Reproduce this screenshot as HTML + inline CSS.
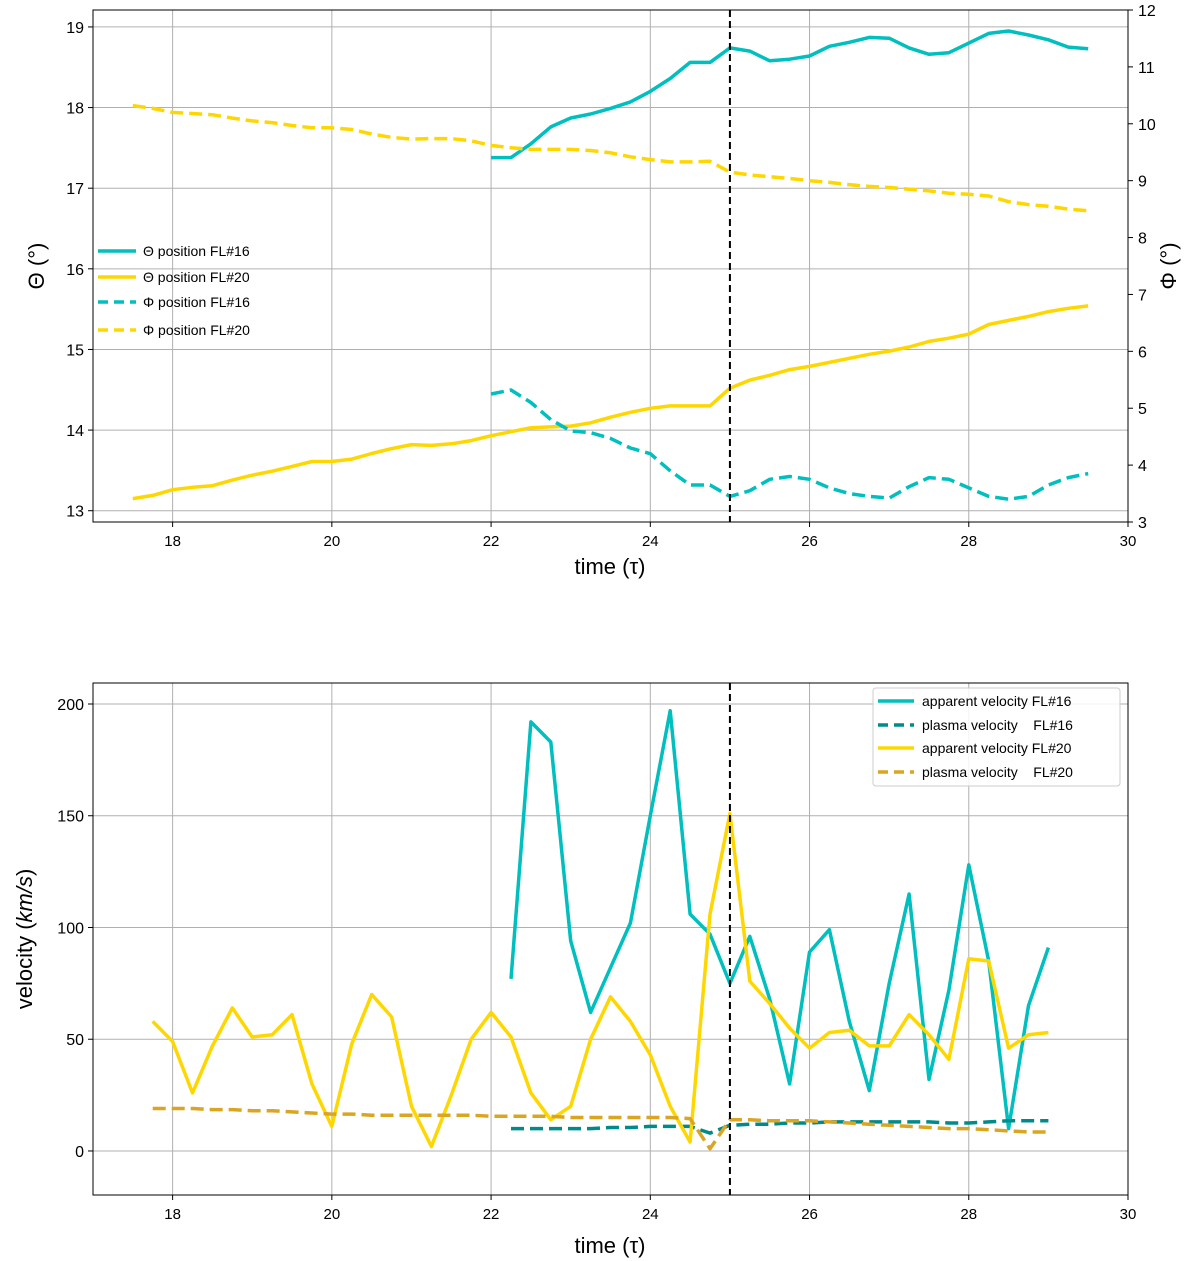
<!DOCTYPE html>
<html><head><meta charset="utf-8"><style>
body{margin:0;background:#fff}
svg{display:block;font-family:"Liberation Sans","DejaVu Sans",sans-serif}
</style></head><body>
<svg id="c" width="1200" height="1261" viewBox="0 0 1200 1261"></svg>
<script>
// top chart data
const tTheta16Start = 22, tTheta20Start = 17.5;
const theta16 = [17.38,17.38,17.55,17.76,17.87,17.92,17.99,18.07,18.2,18.36,18.56,18.56,18.74,18.7,18.58,18.6,18.64,18.76,18.81,18.87,18.86,18.74,18.66,18.68,18.8,18.92,18.95,18.9,18.84,18.75,18.73];
const theta20 = [13.15,13.19,13.26,13.29,13.31,13.38,13.44,13.49,13.55,13.61,13.61,13.64,13.71,13.77,13.82,13.81,13.83,13.87,13.93,13.98,14.03,14.04,14.05,14.09,14.16,14.22,14.27,14.3,14.3,14.3,14.52,14.62,14.68,14.75,14.79,14.84,14.89,14.94,14.98,15.03,15.1,15.14,15.19,15.31,15.36,15.41,15.47,15.51,15.54];
const phi16 = [5.25,5.32,5.1,4.8,4.6,4.57,4.47,4.3,4.2,3.9,3.65,3.65,3.45,3.55,3.75,3.8,3.75,3.6,3.5,3.45,3.42,3.62,3.78,3.75,3.6,3.45,3.4,3.45,3.65,3.78,3.85];
const phi20 = [10.32,10.27,10.2,10.18,10.16,10.1,10.05,10.02,9.97,9.93,9.93,9.9,9.82,9.76,9.73,9.74,9.74,9.7,9.62,9.58,9.55,9.55,9.55,9.53,9.49,9.42,9.37,9.33,9.33,9.34,9.15,9.1,9.07,9.04,9.0,8.97,8.93,8.9,8.88,8.85,8.82,8.78,8.76,8.73,8.63,8.58,8.55,8.5,8.47];
// bottom chart data
const tApp16Start = 22.25, tApp20Start = 17.75;
const app16 = [77,192,183,94,62,82,102,150,197,106,97,75,96,68,30,89,99,58,27,75,115,32,72,128,85,10,65,91];
const app20 = [58,49,26,47,64,51,52,61,30,11,48,70,60,20,2,25,50,62,51,26,14,20,50,69,58,43,20,4,106,151,76,66,55,46,53,54,47,47,61,52,41,86,85,46,52,53];
const plasma16 = [10,10,10,10,10,10.5,10.5,11,11,11,8,11.5,12,12,12.5,12.5,13,13,13,13,13,13,12.5,12.5,13,13.5,13.5,13.5];
const plasma20 = [19,19,19,18.5,18.5,18,18,17.5,17,16.5,16.5,16,16,16,16,16,16,15.5,15.5,15.5,15.5,15,15,15,15,15,15,14.5,1,14,14,13.5,13.5,13.5,13,12.5,12,11.5,11,10.5,10,10,9.5,9,8.5,8.5];
const xTicks = [18,20,22,24,26,28,30];
const thetaTicks = [13,14,15,16,17,18,19];
const phiTicks = [3,4,5,6,7,8,9,10,11,12];
const velTicks = [0,50,100,150,200];
const dt = 0.25;

const NS="http://www.w3.org/2000/svg", svg=document.getElementById('c');
function el(tag,a,parent){const e=document.createElementNS(NS,tag);for(const k in a)e.setAttribute(k,a[k]);(parent||svg).appendChild(e);return e;}
const L=93,R=1128;
const sx=t=>L+(t-17)/13*(R-L);
const T1=10,B1=522, T2=683,B2=1195;
const syTh=v=>B1-(v-12.86)/(19.21-12.86)*(B1-T1);
const syPh=v=>B1-(v-3)/9*(B1-T1);
const syV=v=>B2-(v+19.7)/(209.4+19.7)*(B2-T2);

function grid(T,B,yt,sy,name){
  const g=el('g',{});
  
  xTicks.forEach(t=>{if(t<30)el('line',{x1:sx(t),x2:sx(t),y1:T,y2:B,stroke:'#b0b0b0','stroke-width':1},g);
    el('line',{x1:sx(t),x2:sx(t),y1:B,y2:B+5,stroke:'#000'},g);
    const tx=el('text',{x:sx(t),y:B+24,'text-anchor':'middle','font-size':15},g);tx.textContent=t;});
  yt.forEach(v=>{el('line',{x1:L,x2:R,y1:sy(v),y2:sy(v),stroke:'#b0b0b0','stroke-width':1},g);
    el('line',{x1:L-5,x2:L,y1:sy(v),y2:sy(v),stroke:'#000'},g);
    const tx=el('text',{x:L-9,y:sy(v)+6,'text-anchor':'end','font-size':16},g);tx.textContent=v;});
}
function line(arr,t0,sy,color,dash,name){
  const p=arr.map((v,i)=>sx(t0+i*dt).toFixed(1)+','+sy(v).toFixed(1)).join(' ');
  const e=el('polyline',{points:p,fill:'none',stroke:color,'stroke-width':3.5,'stroke-linejoin':'round'});
  if(dash)e.setAttribute('stroke-dasharray',dash);
  
}
function text(x,y,s,size,attrs,name){const e=el('text',Object.assign({x:x,y:y,'font-size':size},attrs||{}));e.innerHTML=s;return e;}

// top chart
grid(T1,B1,thetaTicks,syTh,'top');
phiTicks.forEach(v=>{el('line',{x1:R,x2:R+5,y1:syPh(v),y2:syPh(v),stroke:'#000'});
  const tx=el('text',{x:R+10,y:syPh(v)+6,'font-size':16});tx.textContent=v;});
line(theta16,tTheta16Start,syTh,'#00BFBF',null,'theta-fl16-line');
line(theta20,tTheta20Start,syTh,'#FFD700',null,'theta-fl20-line');
line(phi16,tTheta16Start,syPh,'#00BFBF','13,6','phi-fl16-line');
line(phi20,tTheta20Start,syPh,'#FFD700','13,6','phi-fl20-line');
el('line',{x1:sx(25),x2:sx(25),y1:T1,y2:B1,stroke:'#000','stroke-width':2,'stroke-dasharray':'7,4'});
el('rect',{x:L,y:T1,width:R-L,height:B1-T1,fill:'none',stroke:'#000','stroke-width':1});
text(610,574,'time (τ)',22,{'text-anchor':'middle'},'top-x-axis-title');
text(44,266,'Θ (°)',22,{'text-anchor':'middle',transform:'rotate(-90 44 266)'},'left-y-axis-title');
text(1176,266,'Φ (°)',22,{'text-anchor':'middle',transform:'rotate(-90 1176 266)'},'right-y-axis-title');
const lg1=[['Θ position FL#16','#00BFBF',null],['Θ position FL#20','#FFD700',null],['Φ position FL#16','#00BFBF','13,6'],['Φ position FL#20','#FFD700','13,6']];
[251,277,302,330].forEach((y,i)=>{const a=lg1[i];
  const l=el('line',{x1:98,x2:136,y1:y,y2:y,stroke:a[1],'stroke-width':3.5});if(a[2])l.setAttribute('stroke-dasharray','10,6');
  text(143,y+5,a[0],14,{},'top-legend-entry');});

// bottom chart
grid(T2,B2,velTicks,syV,'bottom');
line(app16,tApp16Start,syV,'#00BFBF',null,'apparent-velocity-fl16');
line(plasma16,tApp16Start,syV,'#008B8B','13,6','plasma-velocity-fl16');
line(app20,tApp20Start,syV,'#FFD700',null,'apparent-velocity-fl20');
line(plasma20,tApp20Start,syV,'#DAA520','13,6','plasma-velocity-fl20');
el('line',{x1:sx(25),x2:sx(25),y1:T2,y2:B2,stroke:'#000','stroke-width':2,'stroke-dasharray':'7,4'});
el('rect',{x:L,y:T2,width:R-L,height:B2-T2,fill:'none',stroke:'#000','stroke-width':1});
text(610,1253,'time (τ)',22,{'text-anchor':'middle'},'bottom-x-axis-title');
text(32,939,'velocity (<tspan font-style="italic">km/s</tspan>)',22,{'text-anchor':'middle',transform:'rotate(-90 32 939)'},'velocity-axis-title');
el('rect',{x:873,y:688,width:247,height:98,rx:3,fill:'#fff','fill-opacity':0.85,stroke:'#ccc'});
const lg2=[['apparent velocity FL#16','#00BFBF',null],['plasma velocity&#160;&#160;&#160;&#160;FL#16','#008B8B','10,6'],['apparent velocity FL#20','#FFD700',null],['plasma velocity&#160;&#160;&#160;&#160;FL#20','#DAA520','10,6']];
[701,725,748,772].forEach((y,i)=>{const a=lg2[i];
  const l=el('line',{x1:878,x2:914,y1:y,y2:y,stroke:a[1],'stroke-width':3.5});if(a[2])l.setAttribute('stroke-dasharray',a[2]);
  text(922,y+5,a[0],14,{},'bottom-legend-entry');});
</script>
</body></html>
